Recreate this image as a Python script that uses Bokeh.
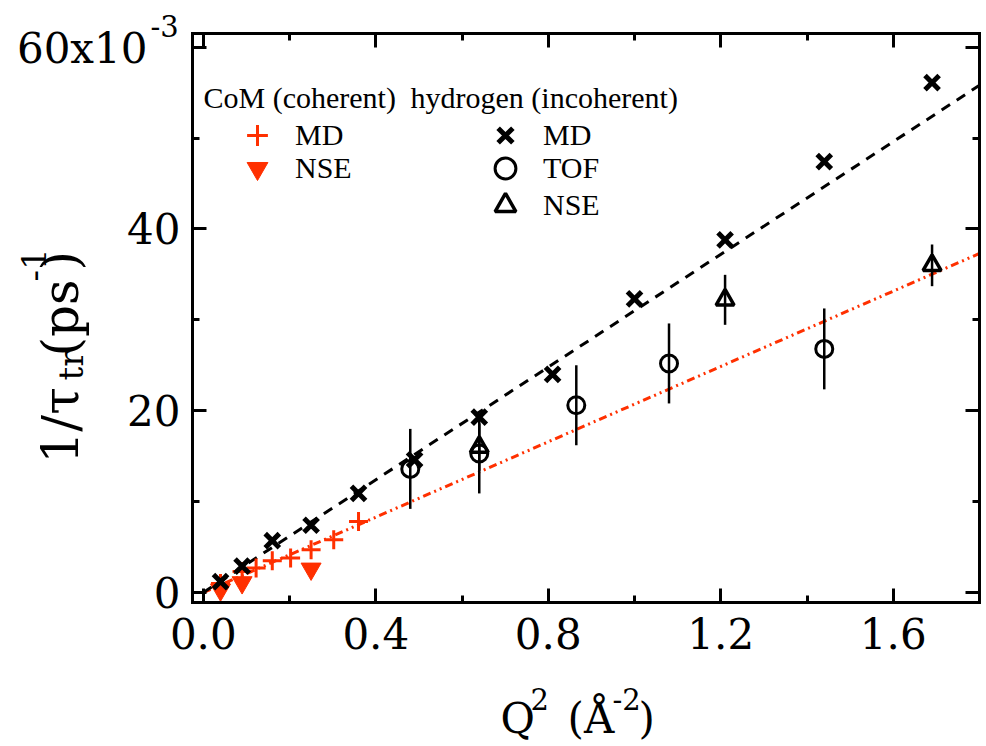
import numpy as np
from bokeh.plotting import figure
from bokeh.models import (Range1d, LinearAxis, FixedTicker, Label, Legend, LegendItem)
from bokeh.embed import file_html
from bokeh.resources import INLINE

# ---------------- data (1/tau in units of 1e-3 ps^-1) ----------------
RED = "#ff3000"

com_md_q2 = [0.04, 0.09, 0.1225, 0.16, 0.2025, 0.25, 0.3025, 0.36]
com_md_y = [1.0, 2.3, 2.7, 3.5, 3.8, 4.7, 5.8, 7.8]

com_nse_q2 = [0.04, 0.09, 0.25]
com_nse_y = [0.3, 1.1, 2.6]

h_md_q2 = [0.04, 0.09, 0.16, 0.25, 0.36, 0.49, 0.64, 0.81, 1.0, 1.21, 1.44, 1.69]
h_md_y = [1.2, 2.9, 5.7, 7.4, 10.9, 14.6, 19.3, 24.0, 32.3, 38.8, 47.4, 56.1]

h_tof_q2 = [0.48, 0.64, 0.865, 1.08, 1.44]
h_tof_y = [13.6, 15.3, 20.6, 25.2, 26.8]
h_tof_err = [4.4, 4.4, 4.4, 4.4, 4.45]

h_nse_q2 = [0.64, 1.21, 1.69]
h_nse_y = [16.0, 32.2, 36.0]
h_nse_err = [2.6, 2.75, 2.3]

fit_q2 = [0.0, 1.8]
fit_h = [0.0, 55.8]
fit_com = [0.0, 37.3]

# axis box and ticks
X_LO, X_HI = -0.025, 1.8
Y_LO, Y_HI = -1.1, 61.5
x_major = [0.0, 0.4, 0.8, 1.2, 1.6]
x_minor = [0.2, 0.6, 1.0, 1.4, 1.8]
x_labels = ["0.0", "0.4", "0.8", "1.2", "1.6"]
y_major = [0, 20, 40, 60]
y_minor = [10, 30, 50]
y_labels = ["0", "20", "40", ""]   # 60 is drawn as "60x10^-3" below

# ---------------- figure ----------------
# The frame fills the whole canvas; the axis box is drawn by four axes fixed
# at the data limits, so that texts outside the box are not clipped.
W, H = 986, 746
BOX_L, BOX_R, BOX_T, BOX_B = 192, 979, 33, 602   # pixel box of the axes
sx = (BOX_R - BOX_L) / (X_HI - X_LO)
sy = (BOX_B - BOX_T) / (Y_HI - Y_LO)
xr = Range1d(X_LO - BOX_L / sx, X_HI + (W - BOX_R) / sx)
yr = Range1d(Y_LO - (H - BOX_B) / sy, Y_HI + BOX_T / sy)

p = figure(width=W, height=H, output_backend="svg", toolbar_location=None,
           x_range=xr, y_range=yr,
           min_border_left=0, min_border_right=0, min_border_top=0,
           min_border_bottom=0, x_axis_location=None, y_axis_location=None)
p.xgrid.visible = False
p.ygrid.visible = False
p.outline_line_color = None
p.background_fill_color = "white"
p.border_fill_color = "white"

TICK_FONT = "DejaVu Serif"


def make_axis(side, loc, ticks, minor, labels, bounds):
    ax = LinearAxis(ticker=FixedTicker(ticks=ticks, minor_ticks=minor),
                    fixed_location=loc, bounds=bounds)
    ax.axis_line_width = 3
    ax.axis_line_cap = "square"
    ax.major_tick_line_width = 3
    ax.minor_tick_line_width = 3
    ax.major_tick_in = 14
    ax.major_tick_out = 0
    ax.minor_tick_in = 7
    ax.minor_tick_out = 0
    ax.major_label_text_font = TICK_FONT
    ax.major_label_text_color = "black"
    if labels is not None:
        ax.major_label_text_font_size = "42px"
        ax.major_label_overrides = dict(zip(ticks, labels))
    else:
        ax.major_label_text_font_size = "1px"
        ax.major_label_standoff = 0
        ax.major_label_overrides = {t: "" for t in ticks}
    p.add_layout(ax, side)
    return ax


xb = make_axis("below", Y_LO, x_major, x_minor, x_labels, (X_LO, X_HI))
xb.major_label_standoff = 15
make_axis("above", Y_HI, x_major, x_minor, None, (X_LO, X_HI))
yl = make_axis("left", X_LO, y_major, y_minor, y_labels, (Y_LO, Y_HI))
yl.major_label_standoff = 12
make_axis("right", X_HI, y_major, y_minor, None, (Y_LO, Y_HI))

# ---------------- fit lines ----------------
p.line(fit_q2, fit_com, line_color=RED, line_width=3, line_dash="8 4 2 4 2 4")
p.line(fit_q2, fit_h, line_color="black", line_width=3, line_dash="10 8")

# ---------------- error bars ----------------
tq = np.array(h_tof_q2); ty = np.array(h_tof_y); te = np.array(h_tof_err)
p.segment(tq, ty - te, tq, ty + te, line_color="black", line_width=2.5)
nq = np.array(h_nse_q2); ny = np.array(h_nse_y); ne = np.array(h_nse_err)
p.segment(nq, ny - ne, nq, ny + ne, line_color="black", line_width=2.5)

# ---------------- markers ----------------
r_com_md = p.scatter(com_md_q2, com_md_y, marker="cross", size=19,
                     line_color=RED, line_width=3)
r_com_nse = p.scatter(com_nse_q2, com_nse_y, marker="inverted_triangle", size=20,
                      line_color=RED, fill_color=RED, line_width=1)
r_h_tof = p.scatter(h_tof_q2, h_tof_y, marker="circle", size=17,
                    line_color="black", fill_color=None, line_width=3)
r_h_nse = p.scatter(h_nse_q2, h_nse_y, marker="triangle", size=18,
                    line_color="black", fill_color=None, line_width=3.5)
r_h_md = p.scatter(h_md_q2, h_md_y, marker="x", size=20,
                   line_color="black", line_width=5)

# ---------------- legends (one legend per row) ----------------
LEG_FONT = "Liberation Serif"


def make_legend(label, renderer, loc):
    lg = Legend(items=[LegendItem(label=label, renderers=[renderer])],
                location=loc, orientation="vertical")
    lg.background_fill_alpha = 0
    lg.border_line_color = None
    lg.padding = 0
    lg.margin = 0
    lg.spacing = 0
    lg.glyph_width = 52
    lg.glyph_height = 52
    lg.label_standoff = 12
    lg.label_height = 35
    lg.label_text_font = LEG_FONT
    lg.label_text_font_size = "30px"
    lg.label_text_color = "black"
    p.add_layout(lg)


make_legend("MD", r_com_md, (231, 585))
make_legend("NSE", r_com_nse, (231, 552))
make_legend("MD", r_h_md, (479, 585))
make_legend("TOF", r_h_tof, (479, 552))
make_legend("NSE", r_h_nse, (479, 515))


# Label screen units: pixels from the canvas' bottom-left corner
def lab(text, x, y, size, font=TICK_FONT, align="left", angle=0.0):
    p.add_layout(Label(x=x, y=y, x_units="screen", y_units="screen", text=text,
                       text_font=font, text_font_size=size, text_align=align,
                       text_baseline="alphabetic", text_color="black", angle=angle))


lab("CoM (coherent)", 203, 649, "30px", font=LEG_FONT)
lab("hydrogen (incoherent)", 410, 649, "30px", font=LEG_FONT)

# y tick "60x10^-3"
lab("60x10", 147, 698, "42px", align="right")
lab("-3", 150, 721, "29px")

# x axis label  Q^2 (Å^-2)
lab("Q", 500, 28, "42px")
lab("2", 530, 48, "29px")
lab("(Å", 567, 28, "42px")
lab("-2", 612, 48, "29px")
lab(")", 638, 28, "42px")

# y axis label 1/tau_tr (ps^-1)
A = np.pi / 2
lab("1/τ", 60, 283, "50px", angle=A)
lab("tr", 70, 366, "34px", angle=A)
lab("(ps", 60, 390, "50px", angle=A)
lab("-1", 33, 465, "34px", angle=A)
lab(")", 60, 476, "50px", angle=A)

open("out.html", "w").write(file_html(p, INLINE))
